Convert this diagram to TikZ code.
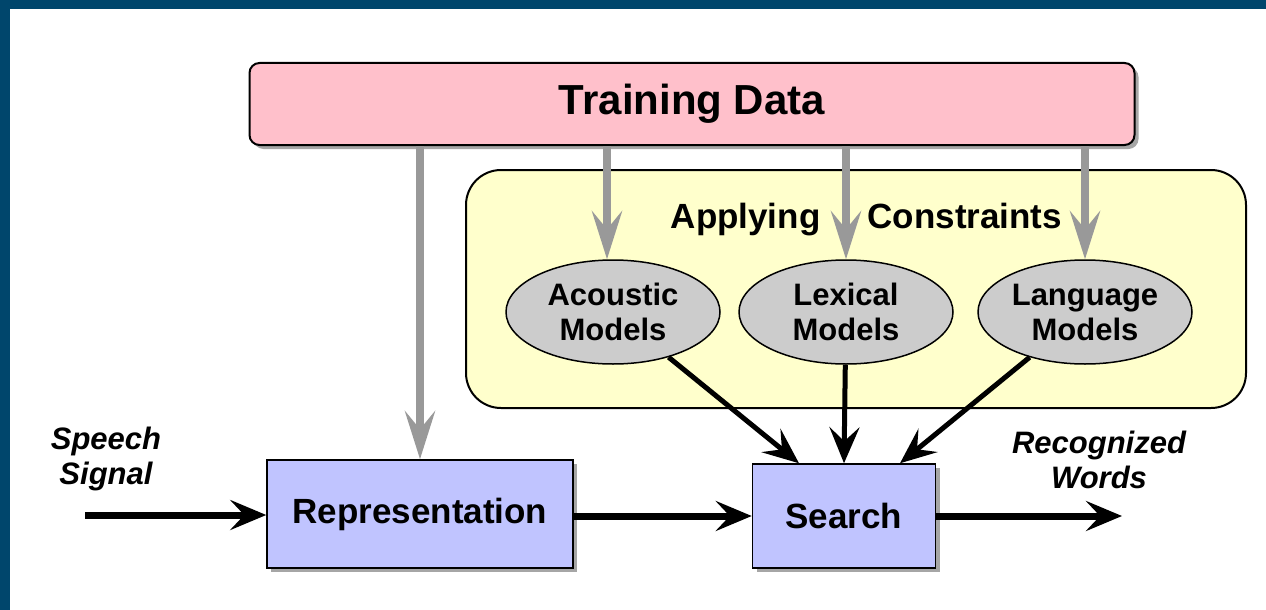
\documentclass[tikz,border=0pt]{standalone}
\usepackage{fontspec}
\setmainfont{Liberation Sans}
\usetikzlibrary{arrows.meta, shapes.geometric, shadows}

\definecolor{framebar}{RGB}{0,70,108}
\definecolor{trainpink}{RGB}{255,192,203}
\definecolor{applyyellow}{RGB}{255,255,204}
\definecolor{modelgray}{RGB}{204,204,204}
\definecolor{blockblue}{RGB}{192,196,255}
\definecolor{feedgray}{RGB}{153,153,153}

\tikzset{
  boxshadow/.style={drop shadow={shadow xshift=4pt, shadow yshift=-4pt, fill=black!50, opacity=.7}},
  block/.style={draw, line width=1.5pt, fill=blockblue, boxshadow, inner sep=0pt,
    font=\fontsize{35}{40}\selectfont\bfseries},
  model/.style={ellipse, draw, line width=1.5pt, fill=modelgray, inner sep=0pt,
    minimum width=214pt, minimum height=104pt, align=center,
    font=\fontsize{31}{35}\selectfont\bfseries},
  signal/.style={align=center, font=\fontsize{31}{35}\selectfont\bfseries\itshape},
  feed/.style={arrows={-Stealth[length=48pt, width=30pt, inset=18pt]}, line width=8pt, draw=feedgray, fill=feedgray},
  flow/.style={arrows={-Stealth[length=36pt, width=30pt, inset=14pt]}, line width=7pt},
  thinflow/.style={arrows={-Stealth[length=36pt, width=30pt, inset=14pt]}, line width=5pt}
}

\begin{document}
\begin{tikzpicture}[x=1pt, y=-1pt]
  \useasboundingbox (0,0) rectangle (1266,610);
  % frame bars on the top and left edge
  \fill[framebar] (0,0) rectangle (1266,9);
  \fill[framebar] (0,0) rectangle (10,610);
  % Draw training data bar
  \node[draw, line width=2pt, fill=trainpink, rounded corners=10pt, boxshadow,
    minimum width=885pt, minimum height=82pt, font=\fontsize{42}{48}\selectfont\bfseries]
    (train) at (692,104) {Training Data};
  % Draw constraint panel and its title
  \node[draw, line width=2pt, fill=applyyellow, rounded corners=35pt,
    minimum width=780pt, minimum height=238pt] (apply) at (856,289) {};
  \node[anchor=base east, font=\fontsize{35}{40}\selectfont\bfseries] (applying) at (824,228) {Applying};
  \node[anchor=base west, font=\fontsize{35}{40}\selectfont\bfseries] (constraints) at (864,228) {Constraints};
  % Draw models
  \node[model] (acoustic) at (613,312) {Acoustic\\Models};
  \node[model] (lexical) at (846,312) {Lexical\\Models};
  \node[model] (language) at (1085,312) {Language\\Models};
  % Draw processing blocks
  \node[block, minimum width=306pt, minimum height=108pt] (rep) at (420,514) {Representation};
  \node[block, minimum width=183pt, minimum height=104pt] (search) at (844,516) {Search};
  % Add labels
  \node[signal] (speech) at (106,459) {Speech\\Signal};
  \node[signal] (words) at (1099,460) {Recognized\\Words};
  \coordinate (in) at (85,515);
  \coordinate (out) at (1122,516);
  % Draw training arrows
  \draw[feed] (rep.north |- train.south) -- (rep.north);
  \draw[feed] ([xshift=-6pt]acoustic.north |- train.south) -- ([xshift=-6pt]acoustic.north);
  \draw[feed] (lexical.north |- train.south) -- (lexical.north);
  \draw[feed] (language.north |- train.south) -- (language.north);
  % Draw model arrows
  \draw[thinflow] (acoustic) -- ([xshift=-45pt]search.north);
  \draw[thinflow] (lexical) -- (search.north);
  \draw[thinflow] (language) -- ([xshift=56pt]search.north);
  % Draw signal path
  \draw[flow] (in) -- (rep.west |- in);
  \draw[flow] (rep.east |- search.west) -- (search.west);
  \draw[flow] (search.east) -- (out);
\end{tikzpicture}
\end{document}
